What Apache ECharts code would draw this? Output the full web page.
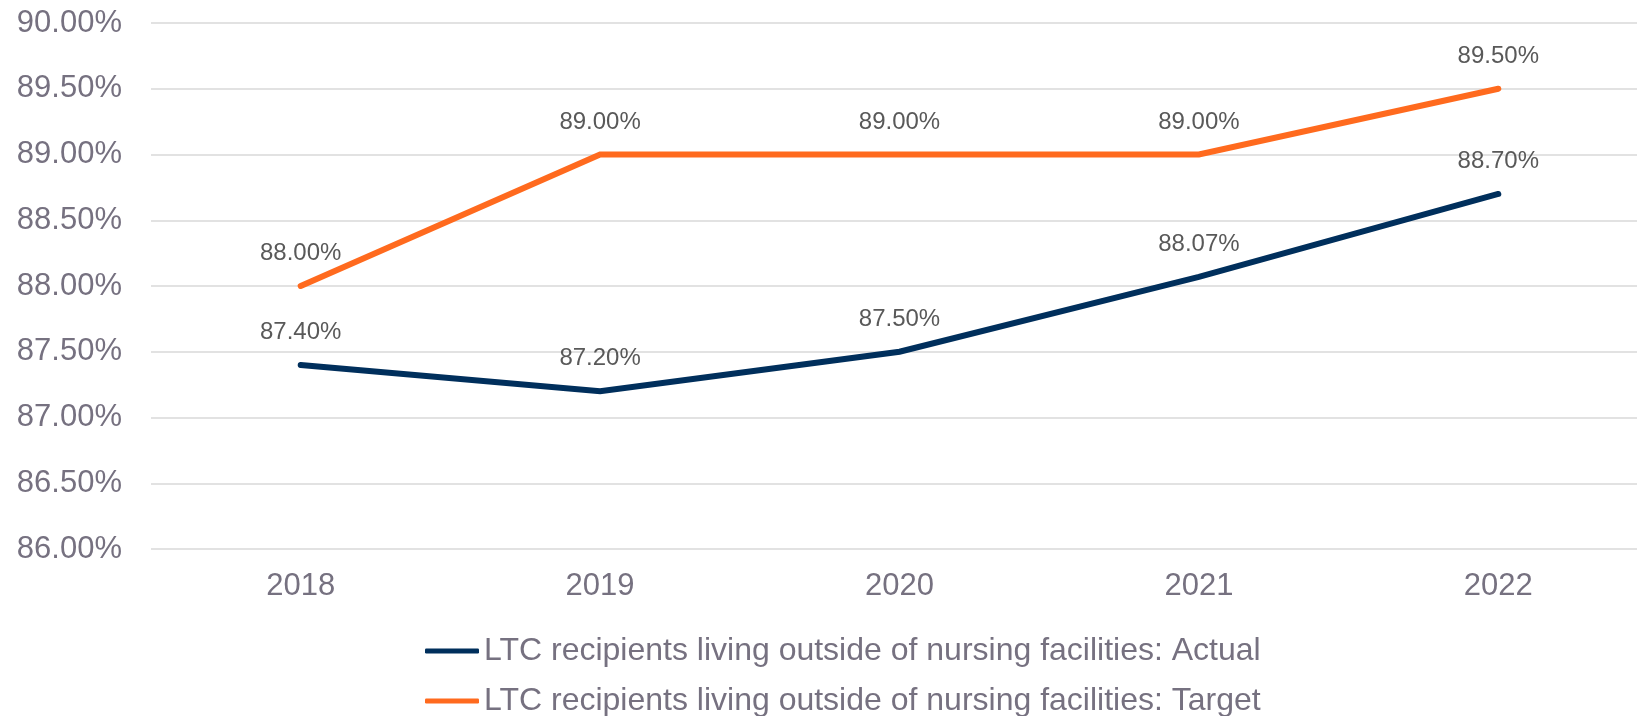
<!DOCTYPE html>
<html>
<head>
<meta charset="utf-8">
<script src="https://cdn.jsdelivr.net/npm/echarts@6/dist/echarts.min.js"></script>
<style>
  html, body { margin: 0; padding: 0; background: #fff; }
  #chart { width: 1637px; height: 716px; }
</style>
</head>
<body>
<div id="chart"></div>
<script>
const years = ['2018', '2019', '2020', '2021', '2022']
const actual = [87.40, 87.20, 87.50, 88.07, 88.70]
const target = [88.00, 89.00, 89.00, 89.00, 89.50]
const seriesNames = [
  'LTC recipients living outside of nursing facilities: Actual',
  'LTC recipients living outside of nursing facilities: Target'
]
const yTicks = { min: 86, max: 90, step: 0.5 }

const fontFamily = '"Liberation Sans", Arial, sans-serif'
const axisColor = '#767180'
const navy = '#002f5c'
const orange = '#ff6a1e'

const chart = echarts.init(document.getElementById('chart'))

const makeSeries = (name, data, color) => ({
  name,
  type: 'line',
  data,
  symbol: 'circle',
  symbolSize: 1,
  itemStyle: { color },
  lineStyle: { color, width: 6, cap: 'round', join: 'miter' },
  label: {
    show: true,
    position: 'top',
    distance: 20,
    fontFamily,
    fontSize: 24,
    color: '#595959',
    formatter: p => p.value.toFixed(2) + '%'
  },
  emphasis: { disabled: true },
  animation: false
})

// one legend per row so they stack like the original
const makeLegend = (name, top) => ({
  left: 420,
  top,
  itemWidth: 54,
  itemHeight: 5,
  itemGap: 5,
  icon: 'roundRect',
  textStyle: {
    fontFamily,
    fontSize: 32,
    color: axisColor,
    padding: [0, 0, 0, 0]
  },
  data: [name]
})

const option = {
  textStyle: { fontFamily },
  grid: {
    left: 151,
    width: 1497,
    top: 23,
    height: 526,
    containLabel: false,
    outerBoundsMode: 'none'
  },
  xAxis: {
    type: 'category',
    data: years,
    boundaryGap: true,
    axisLine: { show: false },
    axisTick: { show: false },
    axisLabel: {
      margin: 22,
      fontFamily,
      fontSize: 31,
      color: axisColor
    }
  },
  yAxis: {
    type: 'value',
    min: yTicks.min,
    max: yTicks.max,
    interval: yTicks.step,
    axisLine: { show: false },
    axisTick: { show: false },
    splitLine: { lineStyle: { color: '#d9d9d9', width: 1.5 } },
    axisLabel: {
      margin: 29,
      fontFamily,
      fontSize: 31,
      color: axisColor,
      formatter: v => v.toFixed(2) + '%'
    }
  },
  legend: [
    makeLegend(seriesNames[0], 630),
    makeLegend(seriesNames[1], 680)
  ],
  series: [
    makeSeries(seriesNames[0], actual, navy),
    makeSeries(seriesNames[1], target, orange)
  ]
}

chart.setOption(option)
</script>
</body>
</html>
